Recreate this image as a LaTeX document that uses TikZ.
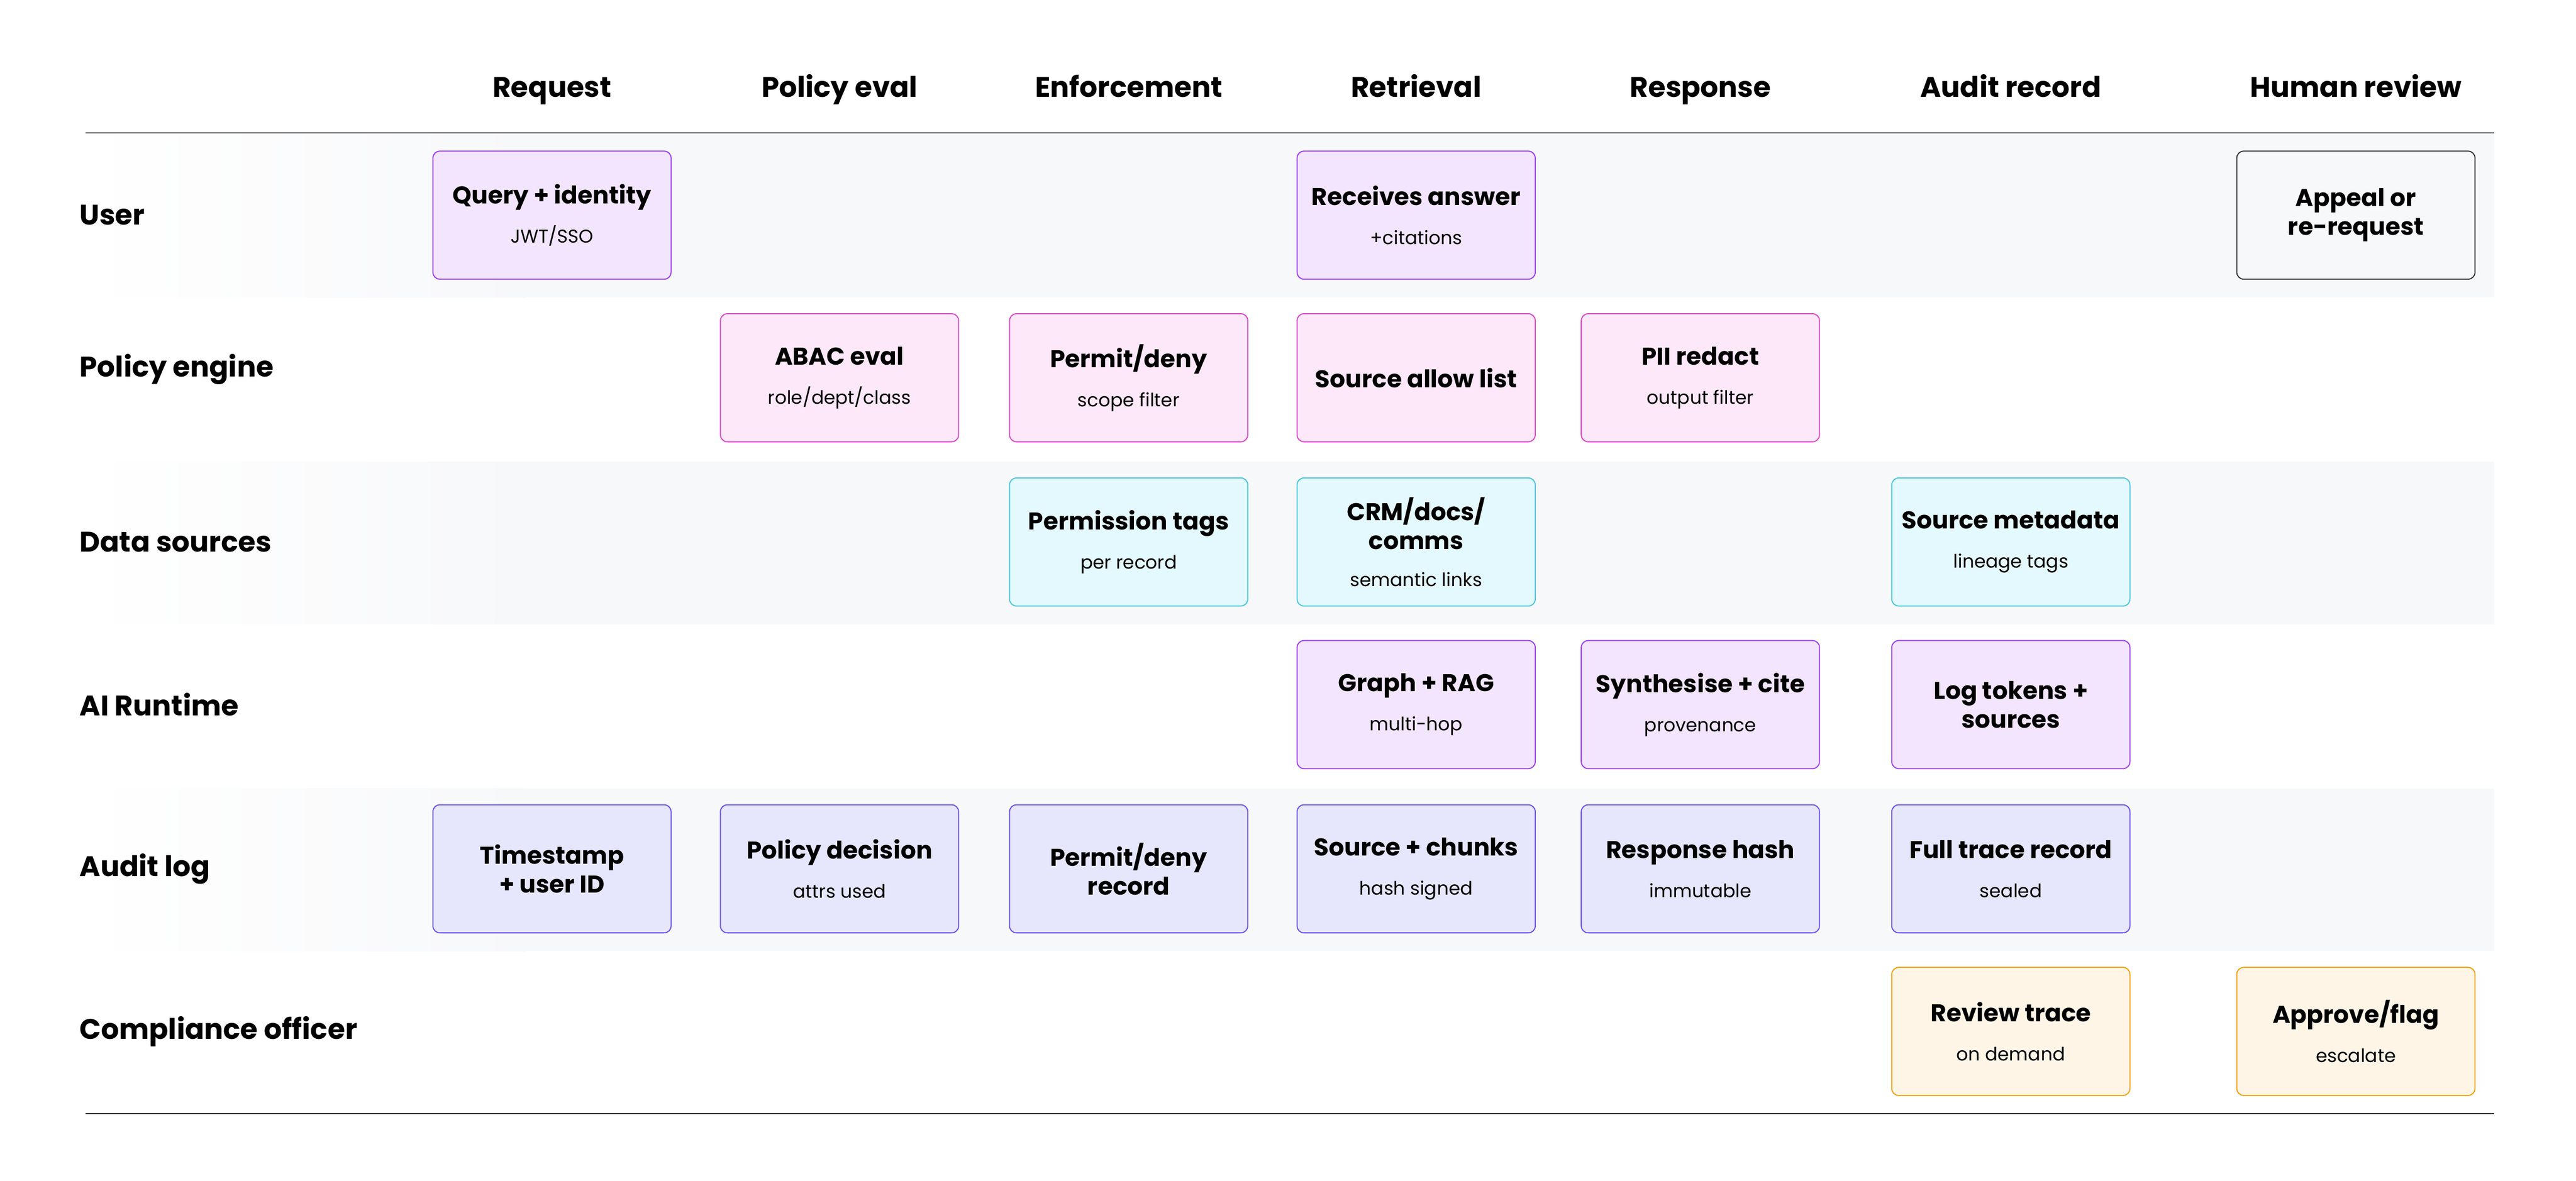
\documentclass[tikz,border=0pt]{standalone}
\usepackage{fontspec}
\setmainfont{Poppins}
\usetikzlibrary{positioning}

\definecolor{bandgray}{HTML}{F7F8FA}
\definecolor{usrfill}{HTML}{F3E5FD}
\definecolor{usrline}{HTML}{9B3CF2}
\definecolor{polfill}{HTML}{FDE8FA}
\definecolor{polline}{HTML}{D946C8}
\definecolor{datfill}{HTML}{E4F9FD}
\definecolor{datline}{HTML}{45C6DE}
\definecolor{logfill}{HTML}{E6E6FC}
\definecolor{logline}{HTML}{6B4EEB}
\definecolor{cmpfill}{HTML}{FEF5E7}
\definecolor{cmpline}{HTML}{F59E0B}

\newcommand\boxsub[1]{{\fontsize{16}{18}\selectfont\mdseries #1}}

\tikzset{
  stage/.style={draw, rounded corners=6pt, line width=0.9pt, minimum width=7.25cm,
    minimum height=3.9cm, align=center, inner sep=2pt,
    font=\fontsize{21}{25}\selectfont\bfseries},
  usr/.style={stage, fill=usrfill, draw=usrline},
  pol/.style={stage, fill=polfill, draw=polline},
  dat/.style={stage, fill=datfill, draw=datline},
  log/.style={stage, fill=logfill, draw=logline},
  cmp/.style={stage, fill=cmpfill, draw=cmpline},
  hrbox/.style={stage, fill=bandgray, draw=black!80},
  head/.style={font=\fontsize{24.5}{28}\selectfont\bfseries, anchor=base},
  lane/.style={font=\fontsize{24.5}{28}\selectfont\bfseries, anchor=west}
}

\begin{document}
\begin{tikzpicture}[x=0.05cm, y=0.05cm]
\useasboundingbox (0,0) rectangle (1568,-719);
% lane bands
\foreach \top in {82,281,480} {
  \fill[bandgray] (50,-\top) rectangle (1518,-\top-99);
  \shade[left color=white, right color=bandgray] (50,-\top) rectangle (320,-\top-99);
}
\draw[line width=1pt, black!80] (52,-81) -- (1518,-81);
\draw[line width=1pt, black!80] (52,-678) -- (1518,-678);
% column headings
\foreach \x/\txt in {336/Request, 511/Policy eval, 687/Enforcement, 862/Retrieval,
  1035/Response, 1224/Audit record, 1434/Human review}
  \node[head] at (\x,-59) {\txt};
% lane labels
\foreach \y/\txt in {131/User, 225/Policy engine, 330/Data sources, 429/AI Runtime,
  529/Audit log, 628/Compliance officer}
  \node[lane] at (46,-\y) {\txt};
% user
\node[usr] (query) at (336,-131) {Query + identity\\[9pt]\boxsub{JWT/SSO}};
\node[usr] (answer) at (862,-131) {Receives answer\\[9pt]\boxsub{+citations}};
\node[hrbox] (appeal) at (1434,-131) {Appeal or\\re-request};
% policy engine
\node[pol] (abac) at (511,-230) {ABAC eval\\[9pt]\boxsub{role/dept/class}};
\node[pol] (permit) at (687,-230) {Permit/deny\\[9pt]\boxsub{scope filter}};
\node[pol] (allow) at (862,-230) {Source allow list};
\node[pol] (redact) at (1035,-230) {PII redact\\[9pt]\boxsub{output filter}};
% data sources
\node[dat] (tags) at (687,-330) {Permission tags\\[9pt]\boxsub{per record}};
\node[dat] (crm) at (862,-330) {CRM/docs/\\comms\\[7pt]\boxsub{semantic links}};
\node[dat] (meta) at (1224,-330) {Source metadata\\[9pt]\boxsub{lineage tags}};
% ai runtime
\node[usr] (rag) at (862,-429) {Graph + RAG\\[9pt]\boxsub{multi-hop}};
\node[usr] (synth) at (1035,-429) {Synthesise + cite\\[9pt]\boxsub{provenance}};
\node[usr] (tokens) at (1224,-429) {Log tokens +\\sources};
% audit log
\node[log] (stamp) at (336,-529) {Timestamp\\+ user ID};
\node[log] (decision) at (511,-529) {Policy decision\\[9pt]\boxsub{attrs used}};
\node[log] (pdrec) at (687,-529) {Permit/deny\\record};
\node[log] (chunks) at (862,-529) {Source + chunks\\[9pt]\boxsub{hash signed}};
\node[log] (hash) at (1035,-529) {Response hash\\[9pt]\boxsub{immutable}};
\node[log] (trace) at (1224,-529) {Full trace record\\[9pt]\boxsub{sealed}};
% compliance officer
\node[cmp] (review) at (1224,-628) {Review trace\\[9pt]\boxsub{on demand}};
\node[cmp] (approve) at (1434,-628) {Approve/flag\\[9pt]\boxsub{escalate}};
\end{tikzpicture}
\end{document}
